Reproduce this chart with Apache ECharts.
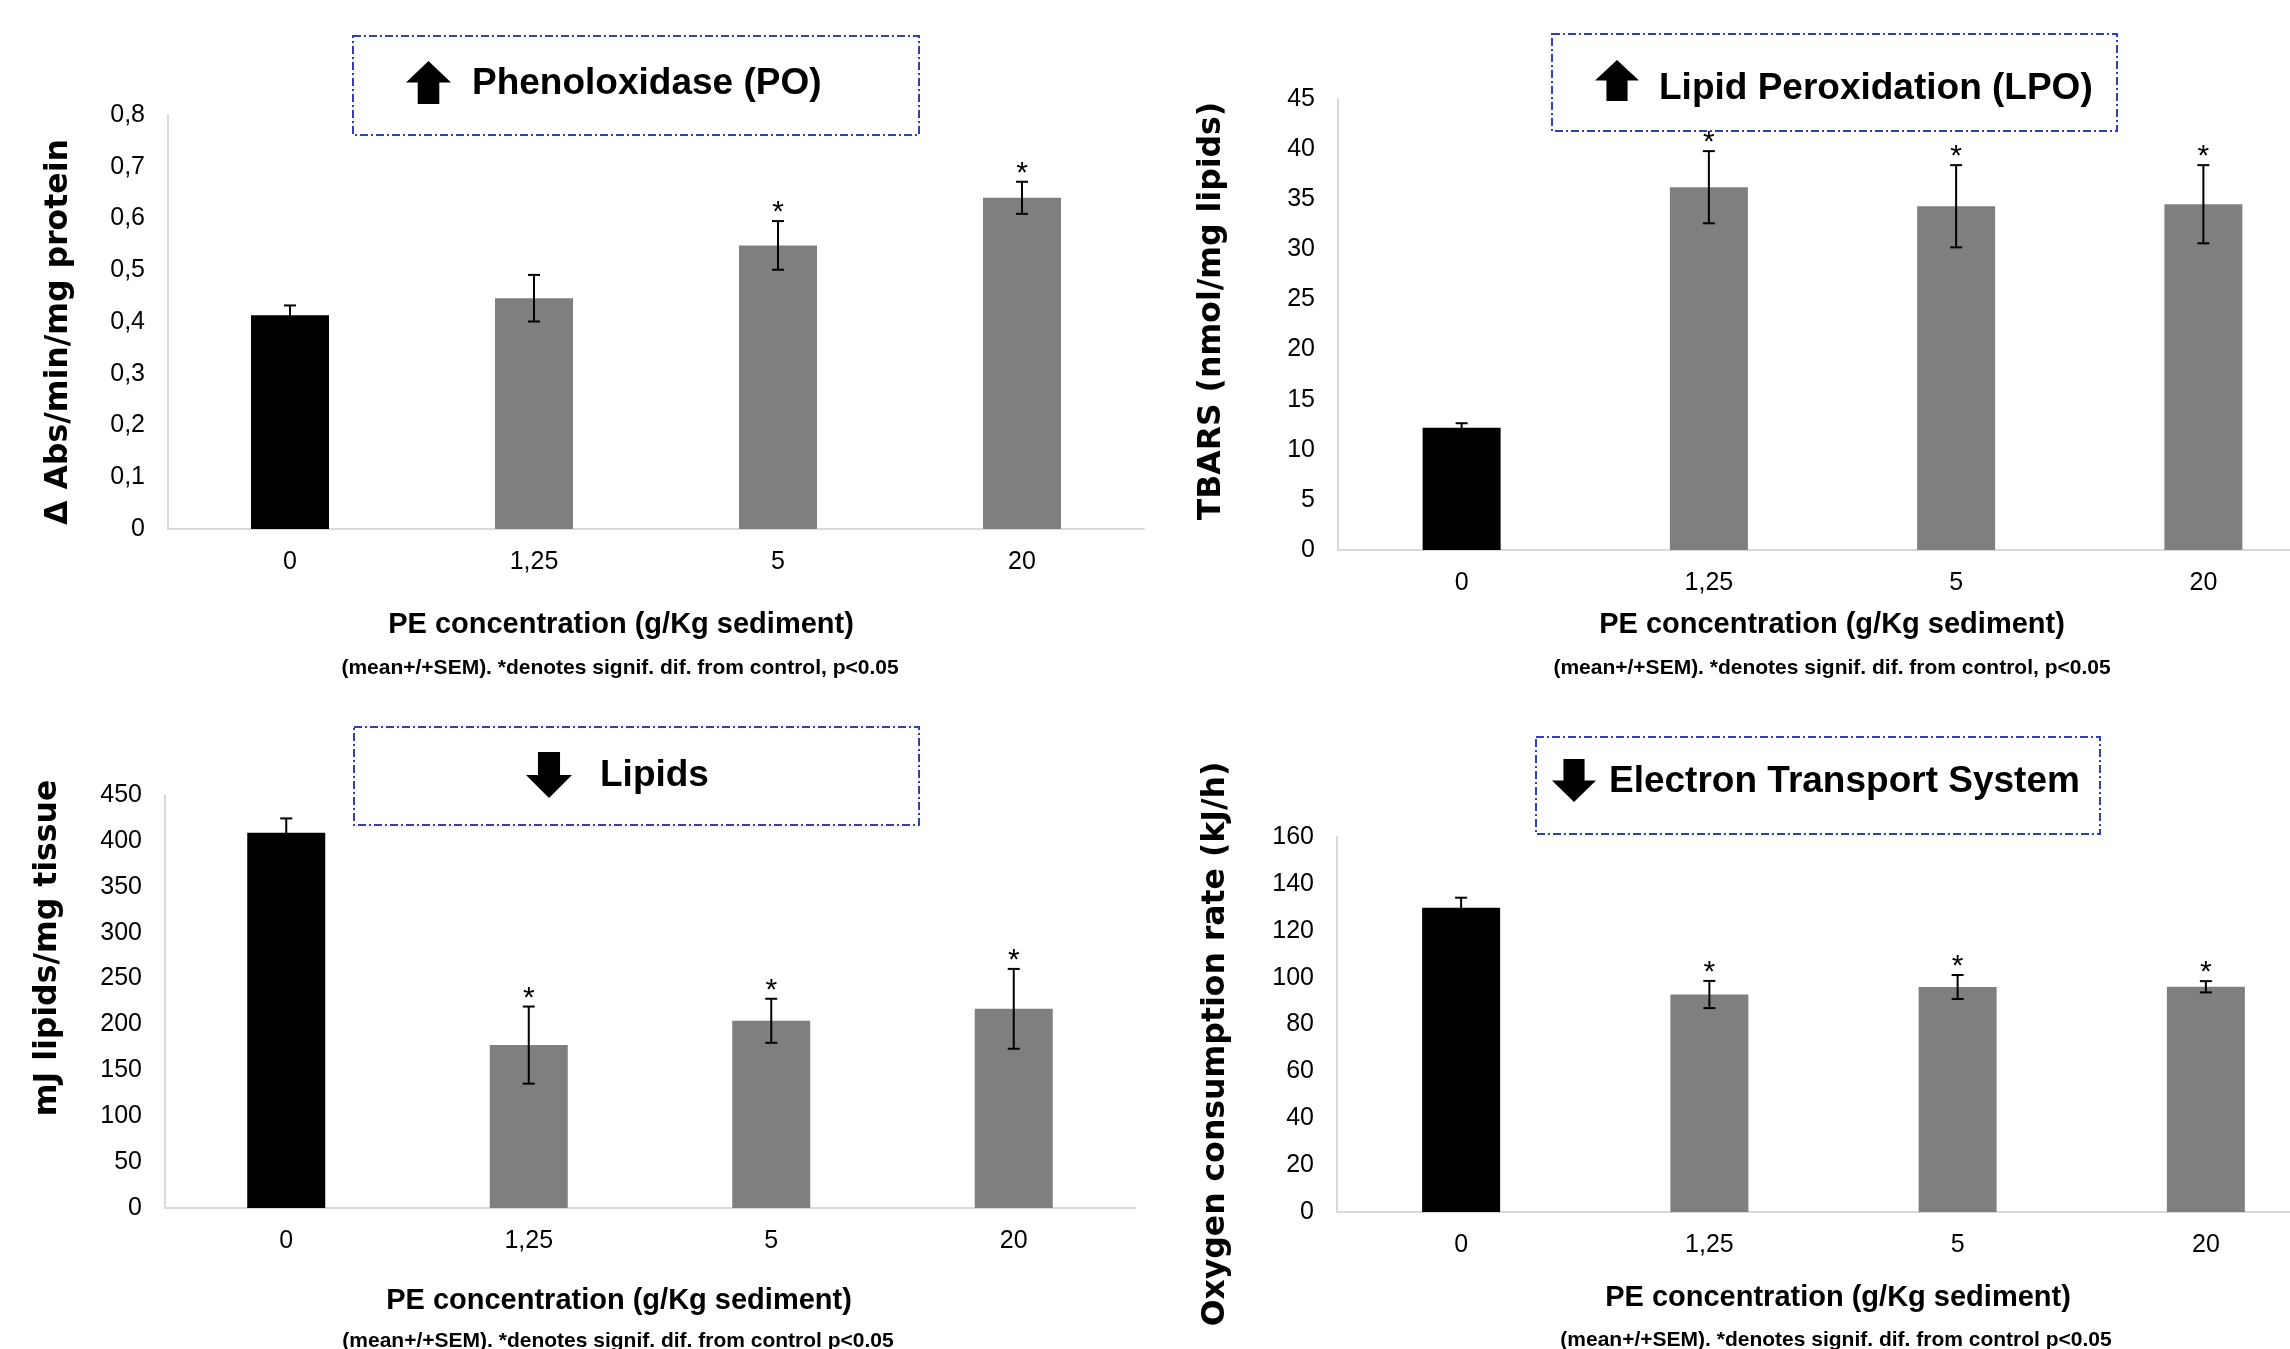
<!DOCTYPE html>
<html>
<head>
<meta charset="utf-8">
<script src="https://cdn.jsdelivr.net/npm/echarts@6/dist/echarts.min.js"></script>
<style>
html,body{margin:0;padding:0;background:#fff;overflow:hidden;width:2290px;height:1349px;}
#wrap{width:2290px;height:1349px;overflow:hidden;position:relative;}
#c{width:2400px;height:1349px;position:absolute;left:0;top:0;}
</style>
</head>
<body>
<div id="wrap"><div id="c"></div></div>
<script>
// ---- data ----
const CATEGORIES = ['0', '1,25', '5', '20'];

const PO_MEAN = [0.413, 0.446, 0.548, 0.640];
const PO_SEM  = [0.019, 0.045, 0.047, 0.031];
const PO_SIG  = [0, 0, 1, 1];

const LPO_MEAN = [12.2, 36.2, 34.3, 34.5];
const LPO_SEM  = [0.45, 3.6, 4.1, 3.9];
const LPO_SIG  = [0, 1, 1, 1];

const LIPID_MEAN = [409, 177.5, 204, 217];
const LIPID_SEM  = [15.5, 42, 24, 43.5];
const LIPID_SIG  = [0, 1, 1, 1];

const ETS_MEAN = [129.8, 92.8, 96.0, 96.1];
const ETS_SEM  = [4.3, 5.8, 5.1, 2.4];
const ETS_SIG  = [0, 1, 1, 1];

const Y_RANGES = [
  {min: 0, max: 0.8, interval: 0.1, dec: 1},
  {min: 0, max: 45, interval: 5, dec: 0},
  {min: 0, max: 450, interval: 50, dec: 0},
  {min: 0, max: 160, interval: 20, dec: 0}
];

const PANEL_TITLES = ['Phenoloxidase (PO)', 'Lipid Peroxidation (LPO)', 'Lipids', 'Electron Transport System'];
const Y_NAMES = ['Δ Abs/min/mg protein', 'TBARS (nmol/mg lipids)', 'mJ lipids/mg tissue', 'Oxygen consumption rate (kJ/h)'];
const X_NAME = 'PE concentration (g/Kg sediment)';
const FOOTNOTES = [
  '(mean+/+SEM). *denotes signif. dif. from control, p<0.05',
  '(mean+/+SEM). *denotes signif. dif. from control, p<0.05',
  '(mean+/+SEM). *denotes signif. dif. from control p<0.05',
  '(mean+/+SEM). *denotes signif. dif. from control p<0.05'
];

// ---- layout ----
const GRIDS = [
  {left: 168, top: 115, width: 976, height: 414},
  {left: 1338, top: 99, width: 989, height: 451},
  {left: 165, top: 795, width: 970, height: 413},
  {left: 1337, top: 837, width: 993, height: 375}
];
const BOXES = [
  {x: 353, y: 36, w: 566, h: 99, arrow: 'up', ax: 406, ay: 61, aw: 45, ah: 43, tx: 472, ty: 84},
  {x: 1552, y: 34, w: 565, h: 97, arrow: 'up', ax: 1595, ay: 60, aw: 44, ah: 41, tx: 1659, ty: 89},
  {x: 354, y: 727, w: 565, h: 98, arrow: 'down', ax: 526, ay: 752, aw: 46, ah: 46, tx: 600, ty: 776},
  {x: 1536, y: 737, w: 564, h: 97, arrow: 'down', ax: 1552, ay: 759, aw: 44, ah: 43, tx: 1609, ty: 782}
];
const YNAME_POS = [[59, 332], [1212, 311], [48, 948], [1216, 1044]];
const XNAME_POS = [[621, 625], [1832, 625], [619, 1301], [1838, 1298]];
const FOOT_POS = [[620, 668], [1832, 668], [618, 1341], [1836, 1340]];

const SETS = [
  [PO_MEAN, PO_SEM, PO_SIG],
  [LPO_MEAN, LPO_SEM, LPO_SIG],
  [LIPID_MEAN, LIPID_SEM, LIPID_SIG],
  [ETS_MEAN, ETS_SEM, ETS_SIG]
];

function arrowPoints(b) {
  const x = b.ax, y = b.ay, w = b.aw, h = b.ah;
  if (b.arrow === 'up') {
    return [[x + w / 2, y], [x + w, y + 0.5 * h], [x + 0.74 * w, y + 0.5 * h], [x + 0.74 * w, y + h],
            [x + 0.26 * w, y + h], [x + 0.26 * w, y + 0.5 * h], [x, y + 0.5 * h]];
  }
  return [[x + 0.26 * w, y], [x + 0.74 * w, y], [x + 0.74 * w, y + 0.5 * h], [x + w, y + 0.5 * h],
          [x + w / 2, y + h], [x, y + 0.5 * h], [x + 0.26 * w, y + 0.5 * h]];
}

function errItem(params, api) {
  const i = api.value(0), m = api.value(1), s = api.value(2), sig = api.value(3);
  const hi = api.coord([i, m + s]);
  const lo = api.coord([i, m - s]);
  const cw = 6;
  const st = {stroke: '#000', lineWidth: 2};
  const children = [
    {type: 'line', shape: {x1: hi[0], y1: hi[1], x2: lo[0], y2: lo[1]}, style: st},
    {type: 'line', shape: {x1: hi[0] - cw, y1: hi[1], x2: hi[0] + cw, y2: hi[1]}, style: st},
    {type: 'line', shape: {x1: lo[0] - cw, y1: lo[1], x2: lo[0] + cw, y2: lo[1]}, style: st}
  ];
  if (sig) {
    children.push({type: 'text', x: hi[0], y: hi[1] - 8,
      style: {text: '*', textAlign: 'center', textVerticalAlign: 'middle',
              font: '30px "Liberation Sans"', fill: '#000'}});
  }
  return {type: 'group', children: children};
}

const grid = GRIDS.map(g => Object.assign({containLabel: false}, g));
const xAxis = GRIDS.map((g, k) => ({
  type: 'category', gridIndex: k, data: CATEGORIES,
  axisLine: {lineStyle: {color: '#D9D9D9', width: 2}},
  axisTick: {show: false},
  axisLabel: {margin: 21, fontSize: 25, fontFamily: 'Liberation Sans', color: '#000'}
}));
const yAxis = Y_RANGES.map((r, k) => ({
  type: 'value', gridIndex: k, min: r.min, max: r.max, interval: r.interval,
  axisLine: {show: true, lineStyle: {color: '#D9D9D9', width: 2}},
  axisTick: {show: false},
  splitLine: {show: false},
  axisLabel: {margin: 23, fontSize: 25, fontFamily: 'Liberation Sans', color: '#000',
    formatter: v => (v === 0 ? '0' : v.toFixed(r.dec).replace('.', ','))}
}));

const series = [];
SETS.forEach((set, k) => {
  const [mean, sem, sig] = set;
  series.push({
    type: 'bar', xAxisIndex: k, yAxisIndex: k, barWidth: 78,
    data: mean.map((v, i) => ({value: v, itemStyle: {color: i === 0 ? '#000000' : '#7F7F7F'}})),
    silent: true, animation: false
  });
  series.push({
    type: 'custom', xAxisIndex: k, yAxisIndex: k, z: 5,
    renderItem: errItem,
    data: mean.map((v, i) => [i, v, sem[i], sig[i]]),
    silent: true, animation: false
  });
});

const graphic = [];
BOXES.forEach((b, k) => {
  graphic.push({type: 'rect', shape: {x: b.x, y: b.y, width: b.w, height: b.h},
    style: {fill: 'none', stroke: '#2F3FBE', lineWidth: 2, lineDash: [8, 3, 2, 3]}, silent: true});
  graphic.push({type: 'polygon', shape: {points: arrowPoints(b)}, style: {fill: '#000'}, silent: true});
  graphic.push({type: 'text', x: b.tx, y: b.ty,
    style: {text: PANEL_TITLES[k], textAlign: 'left', textVerticalAlign: 'middle',
            font: 'bold 37px "Liberation Sans"', fill: '#000'}, silent: true});
  graphic.push({type: 'text', x: YNAME_POS[k][0], y: YNAME_POS[k][1], rotation: Math.PI / 2,
    style: {text: Y_NAMES[k], textAlign: 'center', textVerticalAlign: 'middle',
            font: 'bold 31.5px "DejaVu Sans"', fill: '#000'}, silent: true});
  graphic.push({type: 'text', x: XNAME_POS[k][0], y: XNAME_POS[k][1],
    style: {text: X_NAME, textAlign: 'center', textVerticalAlign: 'middle',
            font: 'bold 29px "Liberation Sans"', fill: '#000'}, silent: true});
  graphic.push({type: 'text', x: FOOT_POS[k][0], y: FOOT_POS[k][1],
    style: {text: FOOTNOTES[k], textAlign: 'center', textVerticalAlign: 'middle',
            font: 'bold 21px "Liberation Sans"', fill: '#000'}, silent: true});
});

const chart = echarts.init(document.getElementById('c'), null, {renderer: 'canvas'});
chart.setOption({
  backgroundColor: '#fff',
  animation: false,
  grid: grid, xAxis: xAxis, yAxis: yAxis, series: series,
  graphic: {elements: graphic}
});
</script>
</body>
</html>
